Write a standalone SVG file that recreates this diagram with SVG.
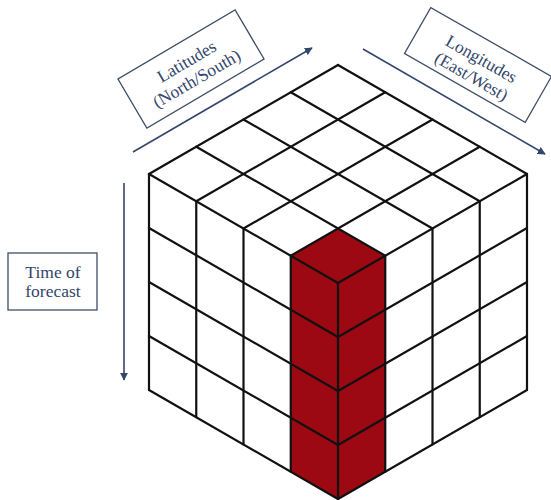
<svg xmlns="http://www.w3.org/2000/svg" width="551" height="500" viewBox="0 0 551 500">
  <style>
    .grid { stroke: #111; stroke-width: 2.2; fill: none; stroke-linecap: round; }
    .red { fill: #9c0912; stroke: none; }
    .box { fill: #fff; stroke: #3f4d66; stroke-width: 1.3; }
    .lbl { font-family: "Liberation Serif", "DejaVu Serif", serif; font-size: 17.5px; fill: #34466b; text-anchor: middle; }
    .arr { stroke: #34466b; stroke-width: 1.6; fill: none; marker-end: url(#ah); }
  </style>
  <defs>
    <marker id="ah" viewBox="0 0 10 10" refX="9" refY="5" markerWidth="8" markerHeight="8" markerUnits="userSpaceOnUse" orient="auto">
      <path d="M0,0 L10,5 L0,10 z" fill="#34466b"/>
    </marker>
  </defs>
  <rect width="551" height="500" fill="#fff"/>

  <g id="cube">
    <polygon class="red" points="338,228.5 385.25,255.75 338,283 290.75,255.75"/>
    <polygon class="red" points="290.75,255.75 338,283 338,499 290.75,471.75"/>
    <polygon class="red" points="338,283 385.25,255.75 385.25,471.75 338,499"/>
    <g class="grid">
      <line x1="338" y1="65" x2="527" y2="174"/>
      <line x1="290.75" y1="92.25" x2="479.75" y2="201.25"/>
      <line x1="243.5" y1="119.5" x2="432.5" y2="228.5"/>
      <line x1="196.25" y1="146.75" x2="385.25" y2="255.75"/>
      <line x1="149" y1="174" x2="338" y2="283"/>
      <line x1="338" y1="65" x2="149" y2="174"/>
      <line x1="385.25" y1="92.25" x2="196.25" y2="201.25"/>
      <line x1="432.5" y1="119.5" x2="243.5" y2="228.5"/>
      <line x1="479.75" y1="146.75" x2="290.75" y2="255.75"/>
      <line x1="527" y1="174" x2="338" y2="283"/>
      <line x1="149" y1="174" x2="149" y2="390"/>
      <line x1="196.25" y1="201.25" x2="196.25" y2="417.25"/>
      <line x1="243.5" y1="228.5" x2="243.5" y2="444.5"/>
      <line x1="290.75" y1="255.75" x2="290.75" y2="471.75"/>
      <line x1="338" y1="283" x2="338" y2="499"/>
      <line x1="385.25" y1="255.75" x2="385.25" y2="471.75"/>
      <line x1="432.5" y1="228.5" x2="432.5" y2="444.5"/>
      <line x1="479.75" y1="201.25" x2="479.75" y2="417.25"/>
      <line x1="527" y1="174" x2="527" y2="390"/>
      <line x1="149" y1="228" x2="338" y2="337"/>
      <line x1="149" y1="282" x2="338" y2="391"/>
      <line x1="149" y1="336" x2="338" y2="445"/>
      <line x1="149" y1="390" x2="338" y2="499"/>
      <line x1="338" y1="337" x2="527" y2="228"/>
      <line x1="338" y1="391" x2="527" y2="282"/>
      <line x1="338" y1="445" x2="527" y2="336"/>
      <line x1="338" y1="499" x2="527" y2="390"/>
    </g>
  </g>

  <g id="connectors">
    <line class="arr" x1="133" y1="152" x2="312" y2="48"/>
    <line class="arr" x1="363" y1="49" x2="545" y2="154"/>
    <line class="arr" x1="124" y1="183" x2="124" y2="380"/>
  </g>

  <g id="latitudes" transform="translate(191,69) rotate(-30.5)">
    <rect class="box" x="-68" y="-28.5" width="136" height="57"/>
    <text class="lbl" x="0" y="-3">Latitudes</text>
    <text class="lbl" x="0" y="17">(North/South)</text>
  </g>

  <g id="longitudes" transform="translate(478,65) rotate(29.7)">
    <rect class="box" x="-69.5" y="-26.5" width="139" height="53"/>
    <text class="lbl" x="0" y="-1">Longitudes</text>
    <text class="lbl" x="0" y="19">(East/West)</text>
  </g>

  <g id="time">
    <rect class="box" x="8" y="253" width="89" height="57"/>
    <text class="lbl" x="53" y="277.5">Time of</text>
    <text class="lbl" x="53" y="297">forecast</text>
  </g>
</svg>
